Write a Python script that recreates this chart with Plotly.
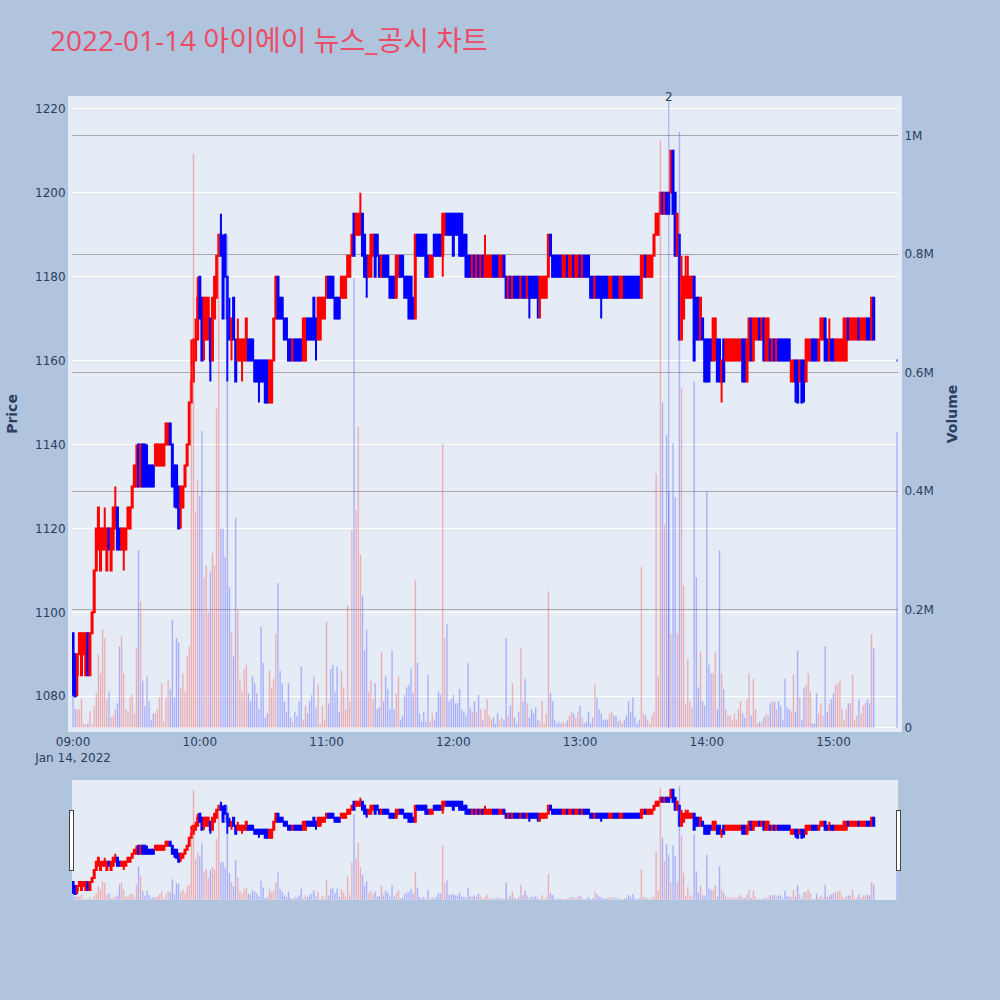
import pandas as pd
import plotly.graph_objects as go
from plotly.subplots import make_subplots

# ---------------- data (1-minute candles, 2022-01-14) ----------------
times = list(pd.date_range("2022-01-14 09:00", "2022-01-14 15:19", freq="min")) + [pd.Timestamp("2022-01-14 15:30")]

open_ = [
    1095,1090,1085,1090,1085,1090,1085,1095,1085,1095, 1100,1110,1115,1110,1115,1115,1110,1120,1110,1115,
    1120,1125,1120,1115,1115,1115,1120,1120,1125,1130, 1130,1140,1130,1140,1140,1135,1135,1135,1135,1135,
    1135,1135,1135,1135,1140,1140,1145,1140,1135,1135, 1130,1125,1125,1130,1135,1140,1150,1155,1160,1165,
    1180,1175,1165,1165,1165,1170,1160,1170,1175,1185, 1190,1185,1190,1180,1170,1165,1175,1165,1160,1160,
    1160,1160,1160,1165,1165,1165,1160,1160,1160,1160, 1160,1160,1160,1150,1150,1160,1170,1180,1175,1175,
    1170,1170,1165,1165,1160,1165,1165,1165,1165,1160, 1160,1170,1170,1170,1175,1170,1165,1165,1170,1170,
    1175,1180,1180,1180,1175,1175,1175,1175,1175,1175, 1180,1180,1185,1195,1190,1190,1190,1195,1190,1185,
    1180,1180,1185,1190,1190,1185,1180,1185,1185,1185, 1180,1180,1180,1175,1180,1185,1185,1180,1180,1180,
    1180,1175,1170,1190,1190,1190,1190,1190,1185,1180, 1180,1190,1190,1190,1190,1185,1190,1195,1195,1195,
    1195,1195,1195,1195,1195,1190,1190,1185,1185,1180, 1185,1180,1185,1180,1185,1180,1180,1180,1180,1185,
    1185,1185,1180,1180,1185,1180,1175,1180,1175,1180, 1180,1180,1175,1180,1180,1175,1180,1180,1180,1180,
    1180,1175,1175,1175,1175,1180,1190,1185,1185,1185, 1185,1185,1180,1180,1185,1180,1180,1185,1180,1180,
    1185,1180,1185,1185,1185,1180,1180,1175,1180,1180, 1180,1180,1180,1180,1175,1175,1180,1180,1180,1175,
    1175,1180,1180,1180,1180,1180,1180,1180,1180,1175, 1180,1185,1180,1180,1180,1185,1190,1190,1195,1200,
    1195,1200,1200,1200,1210,1200,1185,1190,1165,1170, 1175,1175,1175,1175,1180,1175,1175,1165,1170,1165,
    1165,1165,1165,1160,1160,1165,1165,1155,1165,1160, 1160,1160,1160,1160,1160,1160,1160,1165,1165,1155,
    1160,1170,1160,1165,1165,1170,1165,1170,1160,1160, 1165,1160,1165,1160,1165,1165,1165,1165,1165,1165,
    1155,1155,1160,1160,1155,1160,1160,1155,1160,1160, 1165,1165,1165,1160,1165,1165,1170,1165,1160,1165,
    1165,1160,1160,1160,1160,1160,1160,1170,1165,1165, 1165,1165,1170,1165,1165,1165,1170,1170,1165,1175,
    1160,
]

high = [
    1095,1090,1090,1095,1095,1095,1095,1095,1095,1100, 1110,1120,1125,1120,1120,1125,1120,1120,1120,1125,
    1130,1125,1120,1120,1120,1120,1125,1125,1130,1135, 1140,1140,1140,1140,1140,1140,1135,1135,1135,1140,
    1140,1140,1140,1140,1145,1145,1145,1140,1135,1135, 1130,1130,1130,1135,1140,1150,1165,1165,1170,1180,
    1180,1175,1175,1175,1175,1170,1175,1180,1185,1190, 1195,1190,1190,1180,1175,1170,1175,1165,1170,1165,
    1165,1165,1170,1165,1165,1165,1160,1160,1160,1160, 1160,1160,1160,1160,1160,1170,1180,1180,1175,1175,
    1170,1170,1165,1165,1165,1165,1165,1165,1165,1170, 1170,1170,1170,1170,1175,1170,1175,1175,1175,1175,
    1180,1180,1180,1180,1175,1175,1175,1180,1180,1180, 1185,1185,1190,1195,1195,1195,1200,1195,1190,1185,
    1185,1190,1190,1190,1190,1185,1185,1185,1185,1185, 1180,1180,1180,1185,1185,1185,1185,1180,1180,1180,
    1180,1175,1190,1190,1190,1190,1190,1190,1185,1185, 1185,1190,1190,1190,1190,1195,1195,1195,1195,1195,
    1195,1195,1195,1195,1195,1190,1190,1185,1185,1185, 1185,1185,1185,1185,1185,1190,1185,1185,1185,1185,
    1185,1185,1185,1185,1185,1180,1180,1180,1180,1180, 1180,1180,1180,1180,1180,1180,1180,1180,1180,1180,
    1180,1180,1180,1180,1180,1190,1190,1185,1185,1185, 1185,1185,1185,1185,1185,1185,1185,1185,1185,1185,
    1185,1185,1185,1185,1185,1180,1180,1180,1180,1180, 1180,1180,1180,1180,1180,1180,1180,1180,1180,1180,
    1180,1180,1180,1180,1180,1180,1180,1180,1180,1185, 1185,1185,1185,1185,1185,1190,1195,1195,1200,1200,
    1200,1200,1200,1210,1210,1200,1195,1190,1185,1180, 1185,1185,1180,1180,1180,1175,1175,1175,1170,1165,
    1165,1165,1165,1170,1170,1165,1165,1160,1165,1165, 1165,1165,1165,1165,1165,1165,1165,1165,1165,1165,
    1170,1170,1170,1170,1170,1170,1170,1170,1170,1170, 1165,1165,1165,1165,1165,1165,1165,1165,1165,1165,
    1160,1160,1160,1160,1160,1160,1160,1165,1165,1165, 1165,1165,1165,1165,1170,1170,1170,1165,1170,1165,
    1165,1165,1165,1165,1165,1170,1170,1170,1170,1170, 1170,1170,1170,1170,1170,1170,1170,1170,1175,1175,
    1160,
]

low = [
    1080,1080,1080,1090,1085,1090,1085,1085,1085,1095, 1100,1110,1115,1110,1115,1115,1110,1115,1110,1115,
    1120,1115,1115,1115,1110,1115,1120,1120,1125,1130, 1130,1130,1130,1130,1130,1130,1130,1130,1130,1135,
    1135,1135,1135,1135,1140,1140,1140,1130,1125,1125, 1120,1120,1125,1130,1135,1140,1150,1155,1160,1165,
    1170,1160,1160,1165,1165,1155,1160,1170,1175,1185, 1185,1170,1180,1155,1165,1160,1165,1155,1160,1160,
    1155,1160,1160,1160,1160,1160,1155,1155,1150,1155, 1155,1150,1150,1150,1150,1160,1170,1170,1170,1170,
    1165,1165,1160,1160,1160,1160,1160,1160,1160,1160, 1160,1165,1165,1165,1165,1160,1165,1165,1170,1170,
    1175,1175,1175,1175,1170,1170,1170,1175,1175,1175, 1180,1180,1185,1185,1190,1190,1190,1185,1180,1175,
    1180,1180,1185,1180,1185,1180,1180,1180,1180,1180, 1175,1175,1175,1175,1180,1180,1180,1175,1175,1170,
    1170,1170,1170,1185,1185,1185,1185,1180,1180,1180, 1180,1185,1185,1185,1185,1180,1190,1190,1190,1190,
    1185,1190,1190,1185,1185,1185,1180,1180,1180,1180, 1180,1180,1180,1180,1180,1180,1180,1180,1180,1180,
    1180,1180,1180,1180,1180,1175,1175,1175,1175,1175, 1175,1175,1175,1175,1175,1175,1170,1175,1175,1175,
    1170,1170,1175,1175,1175,1180,1185,1180,1180,1180, 1180,1180,1180,1180,1180,1180,1180,1180,1180,1180,
    1180,1180,1180,1180,1180,1175,1175,1175,1175,1175, 1170,1175,1175,1175,1175,1175,1175,1175,1175,1175,
    1175,1175,1175,1175,1175,1175,1175,1175,1175,1175, 1180,1180,1180,1180,1180,1185,1190,1190,1195,1195,
    1195,1195,1195,1200,1195,1185,1185,1165,1165,1170, 1175,1175,1175,1175,1160,1165,1165,1165,1165,1155,
    1155,1155,1160,1160,1160,1155,1155,1150,1155,1160, 1160,1160,1160,1160,1160,1160,1160,1155,1155,1155,
    1160,1160,1160,1165,1165,1165,1165,1160,1160,1160, 1160,1160,1160,1160,1160,1160,1160,1160,1160,1160,
    1155,1155,1150,1150,1155,1150,1150,1155,1160,1160, 1160,1160,1160,1160,1165,1165,1160,1160,1160,1160,
    1160,1160,1160,1160,1160,1160,1160,1165,1165,1165, 1165,1165,1165,1165,1165,1165,1165,1165,1165,1165,
    1160,
]

close = [
    1085,1080,1090,1095,1095,1095,1095,1085,1095,1100, 1110,1120,1125,1120,1120,1120,1120,1115,1120,1125,
    1125,1115,1115,1120,1120,1120,1125,1125,1130,1135, 1135,1130,1140,1130,1130,1130,1130,1130,1130,1140,
    1140,1140,1140,1140,1145,1145,1140,1130,1130,1125, 1120,1130,1130,1135,1140,1150,1155,1165,1165,1175,
    1170,1160,1175,1175,1175,1160,1175,1180,1185,1190, 1185,1170,1180,1170,1165,1170,1165,1155,1165,1165,
    1165,1165,1170,1160,1160,1160,1155,1155,1155,1155, 1155,1150,1150,1160,1160,1170,1180,1170,1170,1170,
    1165,1165,1160,1160,1165,1160,1160,1160,1160,1170, 1170,1165,1165,1165,1165,1165,1175,1175,1175,1175,
    1180,1175,1175,1175,1170,1170,1170,1180,1180,1180, 1185,1185,1190,1185,1195,1195,1195,1185,1180,1180,
    1185,1190,1190,1180,1185,1180,1185,1180,1180,1180, 1175,1175,1175,1185,1185,1180,1180,1175,1175,1170,
    1170,1170,1190,1185,1185,1185,1185,1180,1180,1185, 1185,1185,1185,1185,1185,1195,1195,1190,1190,1190,
    1185,1190,1190,1185,1185,1185,1180,1180,1180,1185, 1180,1185,1180,1185,1180,1185,1185,1185,1185,1180,
    1180,1180,1185,1185,1180,1175,1180,1175,1180,1175, 1175,1175,1180,1175,1175,1180,1175,1175,1175,1175,
    1175,1180,1180,1180,1180,1190,1185,1180,1180,1180, 1180,1180,1185,1185,1180,1185,1185,1180,1185,1185,
    1180,1185,1180,1180,1180,1175,1175,1180,1175,1175, 1175,1175,1175,1175,1180,1180,1175,1175,1175,1180,
    1180,1175,1175,1175,1175,1175,1175,1175,1175,1185, 1185,1180,1185,1185,1185,1190,1195,1195,1200,1195,
    1200,1195,1195,1210,1195,1185,1195,1165,1180,1180, 1180,1180,1180,1180,1160,1165,1165,1175,1165,1155,
    1155,1155,1160,1170,1170,1155,1155,1160,1155,1165, 1165,1165,1165,1165,1165,1165,1165,1155,1155,1165,
    1170,1160,1170,1170,1170,1165,1170,1160,1170,1170, 1160,1165,1160,1165,1160,1160,1160,1160,1160,1160,
    1160,1160,1155,1150,1160,1150,1155,1165,1165,1165, 1160,1160,1160,1165,1170,1170,1160,1160,1165,1160,
    1160,1165,1165,1165,1165,1170,1170,1165,1170,1170, 1170,1170,1165,1170,1170,1170,1165,1165,1175,1165,
    1160,
]

volume = [
    56000,32000,32000,32000,49000,8000,6000,8000,28000,6000, 38000,59000,124000,93000,166000,152000,49000,62000,18000,21000,
    32000,42000,138000,155000,93000,32000,28000,52000,56000,25000, 135000,300000,214000,80000,38000,87000,45000,14000,25000,25000,
    32000,52000,76000,12000,52000,80000,66000,183000,52000,152000, 145000,69000,93000,62000,121000,138000,610000,970000,365000,420000,
    392000,502000,255000,275000,196000,265000,296000,275000,540000,835000, 337000,337000,289000,832000,238000,162000,121000,355000,200000,83000,
    62000,100000,107000,59000,45000,87000,76000,59000,32000,172000, 110000,18000,25000,97000,69000,83000,159000,245000,97000,76000,
    45000,28000,76000,18000,11000,28000,21000,45000,104000,14000, 38000,25000,45000,56000,87000,35000,73000,8000,38000,14000,
    179000,42000,100000,107000,62000,104000,28000,97000,69000,32000, 207000,45000,334000,760000,368000,509000,293000,224000,131000,166000,
    62000,80000,49000,76000,32000,35000,128000,45000,87000,66000, 32000,131000,32000,59000,87000,14000,21000,56000,69000,73000,
    100000,59000,251000,110000,25000,11000,28000,11000,90000,11000, 25000,14000,28000,62000,56000,481000,152000,176000,45000,49000,
    56000,42000,42000,66000,32000,28000,21000,110000,35000,28000, 45000,28000,56000,32000,14000,32000,49000,21000,14000,18000,
    8000,25000,14000,18000,14000,152000,21000,38000,76000,18000, 8000,28000,135000,45000,83000,42000,18000,32000,25000,35000,
    14000,11000,45000,8000,25000,231000,59000,45000,14000,8000, 11000,8000,11000,8000,14000,21000,28000,25000,18000,28000,
    38000,18000,8000,11000,28000,8000,18000,73000,52000,32000, 25000,14000,14000,14000,25000,28000,21000,21000,11000,14000,
    8000,14000,21000,45000,28000,52000,18000,8000,14000,272000, 25000,21000,14000,8000,21000,28000,430000,87000,993000,550000,
    344000,495000,400000,160000,481000,390000,160000,1007000,574000,241000, 40000,117000,45000,35000,585000,255000,69000,128000,45000,38000,
    400000,107000,93000,93000,128000,32000,300000,93000,66000,32000, 21000,21000,14000,25000,14000,32000,45000,25000,18000,49000,
    93000,21000,83000,32000,8000,11000,11000,18000,25000,21000, 42000,45000,45000,32000,45000,38000,14000,83000,35000,32000,
    28000,90000,28000,131000,52000,14000,69000,73000,93000,62000, 8000,8000,59000,25000,42000,21000,138000,28000,42000,49000,
    59000,73000,76000,80000,32000,14000,32000,42000,42000,90000, 14000,21000,49000,25000,38000,42000,49000,42000,159000,135000,
    500000,
]

title_text = "2022-01-14 아이에이 뉴스_공시 차트"
news_times = ["2022-01-14 13:42"]
news_counts = ["2"]

# ---------------- figure ----------------
UP, DOWN = "red", "blue"
FONT = "DejaVu Sans, Noto Sans CJK KR, sans-serif"
TITLE_FONT = "Open Sans, Noto Sans CJK KR, sans-serif"
PLOT_BG = "#E5ECF6"

vol_colors = []
for i, (o, c) in enumerate(zip(open_, close)):
    if c > o:
        vol_colors.append(UP)
    elif c < o:
        vol_colors.append(DOWN)
    else:
        vol_colors.append(UP if (i > 0 and c > close[i - 1]) else DOWN)

fig = make_subplots(specs=[[{"secondary_y": True}]])
fig.add_trace(
    go.Candlestick(
        x=times, open=open_, high=high, low=low, close=close, name="Price",
        increasing=dict(line=dict(color=UP), fillcolor=UP),
        decreasing=dict(line=dict(color=DOWN), fillcolor=DOWN),
        showlegend=False,
    ),
    secondary_y=False,
)
fig.add_trace(
    go.Bar(x=times, y=volume, marker=dict(color=vol_colors), opacity=0.3,
           name="Volume", showlegend=False),
    secondary_y=True,
)

# news / disclosure markers
for t, n in zip(news_times, news_counts):
    fig.add_shape(type="line", xref="x", yref="paper", x0=t, x1=t, y0=0, y1=1,
                  line=dict(color="rgba(60,80,255,0.45)", width=1))
    fig.add_annotation(x=t, y=1, xref="x", yref="paper", text=n, showarrow=False,
                       yanchor="middle", yshift=3, font=dict(size=12, color="#2a3f5f"))

fig.update_layout(
    width=1000, height=1000,
    font=dict(family=FONT),
    paper_bgcolor="lightsteelblue",
    plot_bgcolor=PLOT_BG,
    title=dict(text=title_text, x=0.05, xanchor="left", y=0.959, yanchor="middle",
               font=dict(size=28, color="#EC4C64", family=TITLE_FONT)),
    margin=dict(l=72, r=102, t=100, b=100),
    showlegend=False,
)
fig.update_xaxes(domain=[0, 1], rangeslider=dict(visible=True), showgrid=False, automargin=False,
                 showline=True, linewidth=4, linecolor=PLOT_BG, mirror=True)
fig.update_yaxes(title_text="<b>Price</b>", range=[1072.44, 1222.1], automargin=False,
                 showline=True, linewidth=4, linecolor=PLOT_BG, mirror=True,
                 secondary_y=False)
fig.update_yaxes(title_text="<b>Volume</b>", range=[0, 1060400], gridcolor="#A9A9A9",
                 showgrid=True, automargin=False, showline=True, linewidth=4,
                 linecolor=PLOT_BG, secondary_y=True)

fig.write_html("out.html", post_script="document.body.style.margin='0';",
               config={"displayModeBar": False})
